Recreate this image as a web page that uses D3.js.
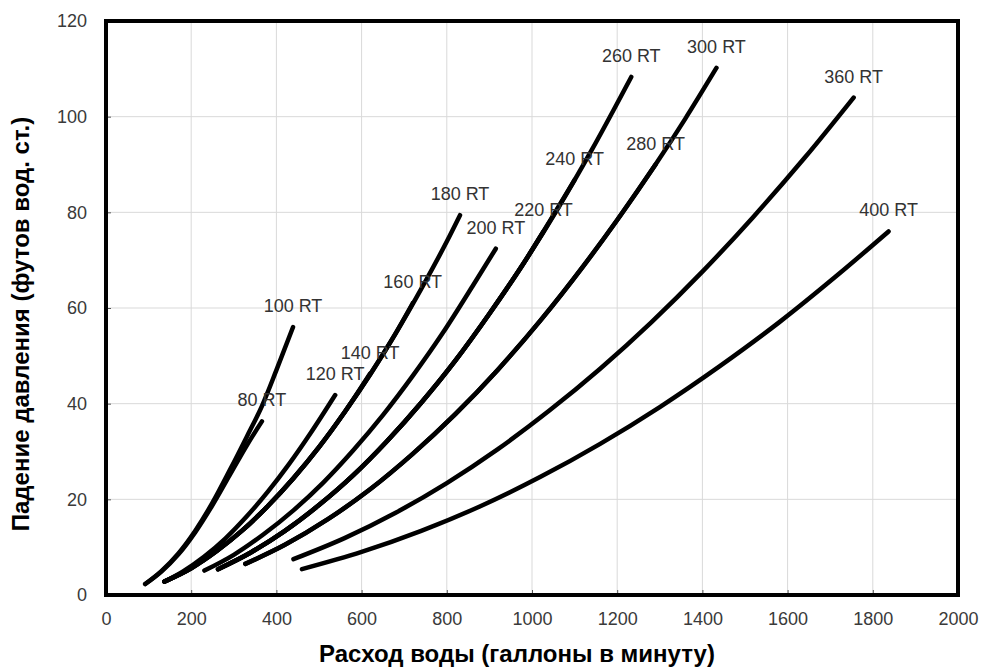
<!DOCTYPE html>
<html>
<head>
<meta charset="utf-8">
<script src="https://cdn.jsdelivr.net/npm/d3@7"></script>
<style>
  body { margin: 0; background: #fff; }
  svg { display: block; font-family: Arial, "Liberation Sans", sans-serif; }
  .grid line { stroke: #d9d9d9; stroke-width: 1; }
  .axis text { fill: #3a3a3a; font-size: 18px; }
  .axis line { stroke: #555; }
  .axis path { display: none; }
  .curve { fill: none; stroke: #000; stroke-width: 4.5; stroke-linecap: round; stroke-linejoin: round; }
  .rt { fill: #333; font-size: 18px; text-anchor: middle; }
  .title { font-weight: bold; font-size: 24px; fill: #000; text-anchor: middle; }
</style>
</head>
<body>
<div class="chart"></div>
<script>
// axis ticks
var xTicks = [0, 200, 400, 600, 800, 1000, 1200, 1400, 1600, 1800, 2000];
var yTicks = [0, 20, 40, 60, 80, 100, 120];

// [flow gpm, pressure drop ft]
var curve80 = [[92,2.3],[130,4.9],[170,8.5],[210,13.2],[250,18.8],[290,25.0],[330,31.2],[366,36.3]];
var curve100 = [[92,2.3],[130,5.0],[170,8.7],[210,13.5],[250,19.3],[290,26.0],[330,33.0],[366,39.5],[400,47.0],[439,56.0]];
var curve120 = [[137,2.8],[180,4.9],[230,8.0],[280,11.8],[330,16.4],[380,21.6],[430,27.4],[480,33.8],[538,41.8]];
var curve140 = [[137,2.8],[200,5.6],[260,9.2],[320,13.5],[380,18.6],[440,24.4],[500,30.9],[560,38.2],[620,46.3]];
var curve160 = [[137,2.8],[200,5.6],[260,9.2],[320,13.5],[380,18.6],[440,24.4],[500,30.9],[560,38.2],[620,46.1],[680,54.7],[720,61.0]];
var curve180 = [[137,2.8],[200,5.6],[260,9.2],[320,13.5],[380,18.6],[440,24.4],[500,30.9],[560,38.2],[620,46.1],[680,54.7],[740,64.0],[800,73.9],[831,79.4]];
var curve200 = [[231,5.1],[300,8.4],[370,12.7],[440,17.7],[510,23.5],[580,30.2],[650,37.6],[720,45.8],[790,54.7],[860,64.5],[915,72.4]];
var curve220 = [[263,5.4],[340,8.9],[420,13.4],[500,18.8],[580,25.0],[660,32.2],[740,40.2],[820,49.0],[900,58.8],[980,69.3],[1027,76.0]];
var curve240 = [[263,5.4],[340,8.9],[420,13.4],[500,18.8],[580,25.0],[660,32.2],[740,40.2],[820,49.0],[900,58.8],[980,69.3],[1040,77.9],[1100,86.8]];
var curve260 = [[263,5.4],[340,8.9],[420,13.4],[500,18.8],[580,25.0],[660,32.2],[740,40.2],[820,49.0],[900,58.8],[980,69.3],[1060,80.7],[1140,93.0],[1233,108.3]];
var curve280 = [[327,6.5],[420,10.5],[520,15.8],[620,22.1],[720,29.5],[820,37.8],[920,47.1],[1020,57.4],[1120,68.7],[1200,78.4],[1290,90.0]];
var curve300 = [[327,6.5],[420,10.5],[520,15.8],[620,22.1],[720,29.5],[820,37.8],[920,47.1],[1020,57.4],[1120,68.7],[1200,78.4],[1290,90.0],[1360,99.6],[1433,110.2]];
var curve360 = [[440,7.5],[560,11.9],[680,17.2],[800,23.4],[920,30.5],[1040,38.5],[1160,47.3],[1280,57.0],[1400,67.6],[1520,79.1],[1640,91.4],[1755,104.0]];
var curve400 = [[460,5.4],[600,9.0],[740,13.4],[880,18.6],[1020,24.7],[1160,31.6],[1300,39.3],[1440,47.8],[1580,57.0],[1720,67.1],[1837,76.0]];

var curveNames = ["80 RT", "100 RT", "120 RT", "140 RT", "160 RT", "180 RT", "200 RT",
                  "220 RT", "240 RT", "260 RT", "280 RT", "300 RT", "360 RT", "400 RT"];
var curveData = [curve80, curve100, curve120, curve140, curve160, curve180, curve200,
                 curve220, curve240, curve260, curve280, curve300, curve360, curve400];

var xTitle = "Расход воды (галлоны в минуту)";
var yTitle = "Падение давления (футов вод. ст.)";

var width = 981;
var height = 669;
// plot box (window.top is reserved, so prefixed names)
var plotLeft = 106, plotRight = 958, plotTop = 21, plotBottom = 595;

var svg = d3.select(".chart").append("svg")
    .attr("width", width)
    .attr("height", height);

var x = d3.scaleLinear().domain([0, 2000]).range([plotLeft, plotRight]);
var y = d3.scaleLinear().domain([0, 120]).range([plotBottom, plotTop]);

// grid
var grid = svg.append("g").attr("class", "grid");
grid.selectAll("line.gx").data(xTicks).enter().append("line")
    .attr("class", "gx")
    .attr("x1", function(d) { return x(d); }).attr("x2", function(d) { return x(d); })
    .attr("y1", plotTop).attr("y2", plotBottom);
grid.selectAll("line.gy").data(yTicks).enter().append("line")
    .attr("class", "gy")
    .attr("x1", plotLeft).attr("x2", plotRight)
    .attr("y1", function(d) { return y(d); }).attr("y2", function(d) { return y(d); });

// axes, ticks point inwards
svg.append("g").attr("class", "axis")
    .attr("transform", "translate(0," + plotBottom + ")")
    .call(d3.axisBottom(x).tickValues(xTicks).tickSize(-5).tickPadding(17).tickFormat(d3.format("d")));
svg.append("g").attr("class", "axis")
    .attr("transform", "translate(" + plotLeft + ",0)")
    .call(d3.axisLeft(y).tickValues(yTicks).tickSize(-5).tickPadding(19).tickFormat(d3.format("d")));

// curves
var line = d3.line()
    .x(function(d) { return x(d[0]); })
    .y(function(d) { return y(d[1]); })
    .curve(d3.curveMonotoneX);

svg.append("g").selectAll("path").data(curveData).enter().append("path")
    .attr("class", "curve")
    .attr("d", line);

// labels sit just above where each curve ends
svg.append("g").selectAll("text").data(curveData).enter().append("text")
    .attr("class", "rt")
    .attr("x", function(d) { return x(d[d.length - 1][0]); })
    .attr("y", function(d) { return y(d[d.length - 1][1]) - 15; })
    .text(function(d, i) { return curveNames[i]; });

// frame
svg.append("rect")
    .attr("x", plotLeft).attr("y", plotTop)
    .attr("width", plotRight - plotLeft).attr("height", plotBottom - plotTop)
    .attr("fill", "none").attr("stroke", "#000").attr("stroke-width", 4);

// titles
svg.append("text").attr("class", "title")
    .attr("x", 517).attr("y", 662)
    .text(xTitle);
svg.append("text").attr("class", "title")
    .attr("transform", "translate(29,324) rotate(-90)")
    .text(yTitle);
</script>
</body>
</html>
